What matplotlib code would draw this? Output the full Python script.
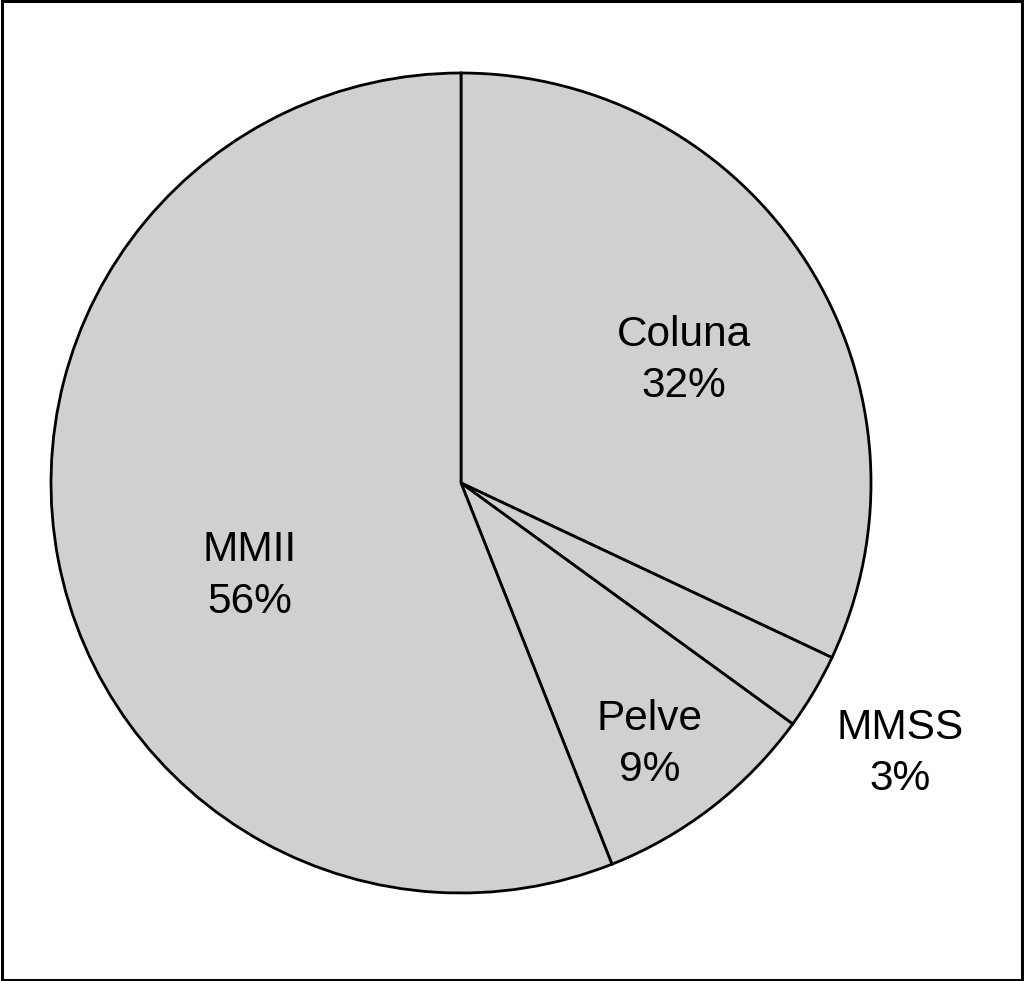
import matplotlib
matplotlib.use("Agg")
import matplotlib.pyplot as plt
from matplotlib.patches import Rectangle

labels = ["Coluna", "MMSS", "Pelve", "MMII"]
values = [32, 3, 9, 56]
# label centre positions in units of the pie radius
label_x = [0.544, 1.071, 0.459, -0.515]
label_y = [0.298, -0.659, -0.637, -0.227]

plt.rcParams['font.family'] = ['Liberation Sans', 'DejaVu Sans']

fig = plt.figure(figsize=(10.24, 9.81), dpi=100)
ax = fig.add_axes([0, 0, 1, 1])
ax.pie(values, startangle=90, counterclock=False, radius=1.0,
       colors=['#d0d0d0'] * len(values),
       wedgeprops=dict(edgecolor='black', linewidth=2.0))
ax.set_aspect('auto')
ax.set_xlim(-461 / 410, (1024 - 461) / 410)
ax.set_ylim((483 - 981) / 410, 483 / 410)
ax.axis('off')

for lab, v, x, y in zip(labels, values, label_x, label_y):
    ax.text(x, y, f"{lab}\n{v}%", ha='center', va='center', fontsize=30.5,
            linespacing=1.36, color='black')

fig.patches.append(Rectangle((0.0015, 0.0015), 0.997, 0.997, transform=fig.transFigure,
                             fill=False, edgecolor='black', linewidth=2.2))
fig.savefig("out.png", dpi=100, facecolor='white')
